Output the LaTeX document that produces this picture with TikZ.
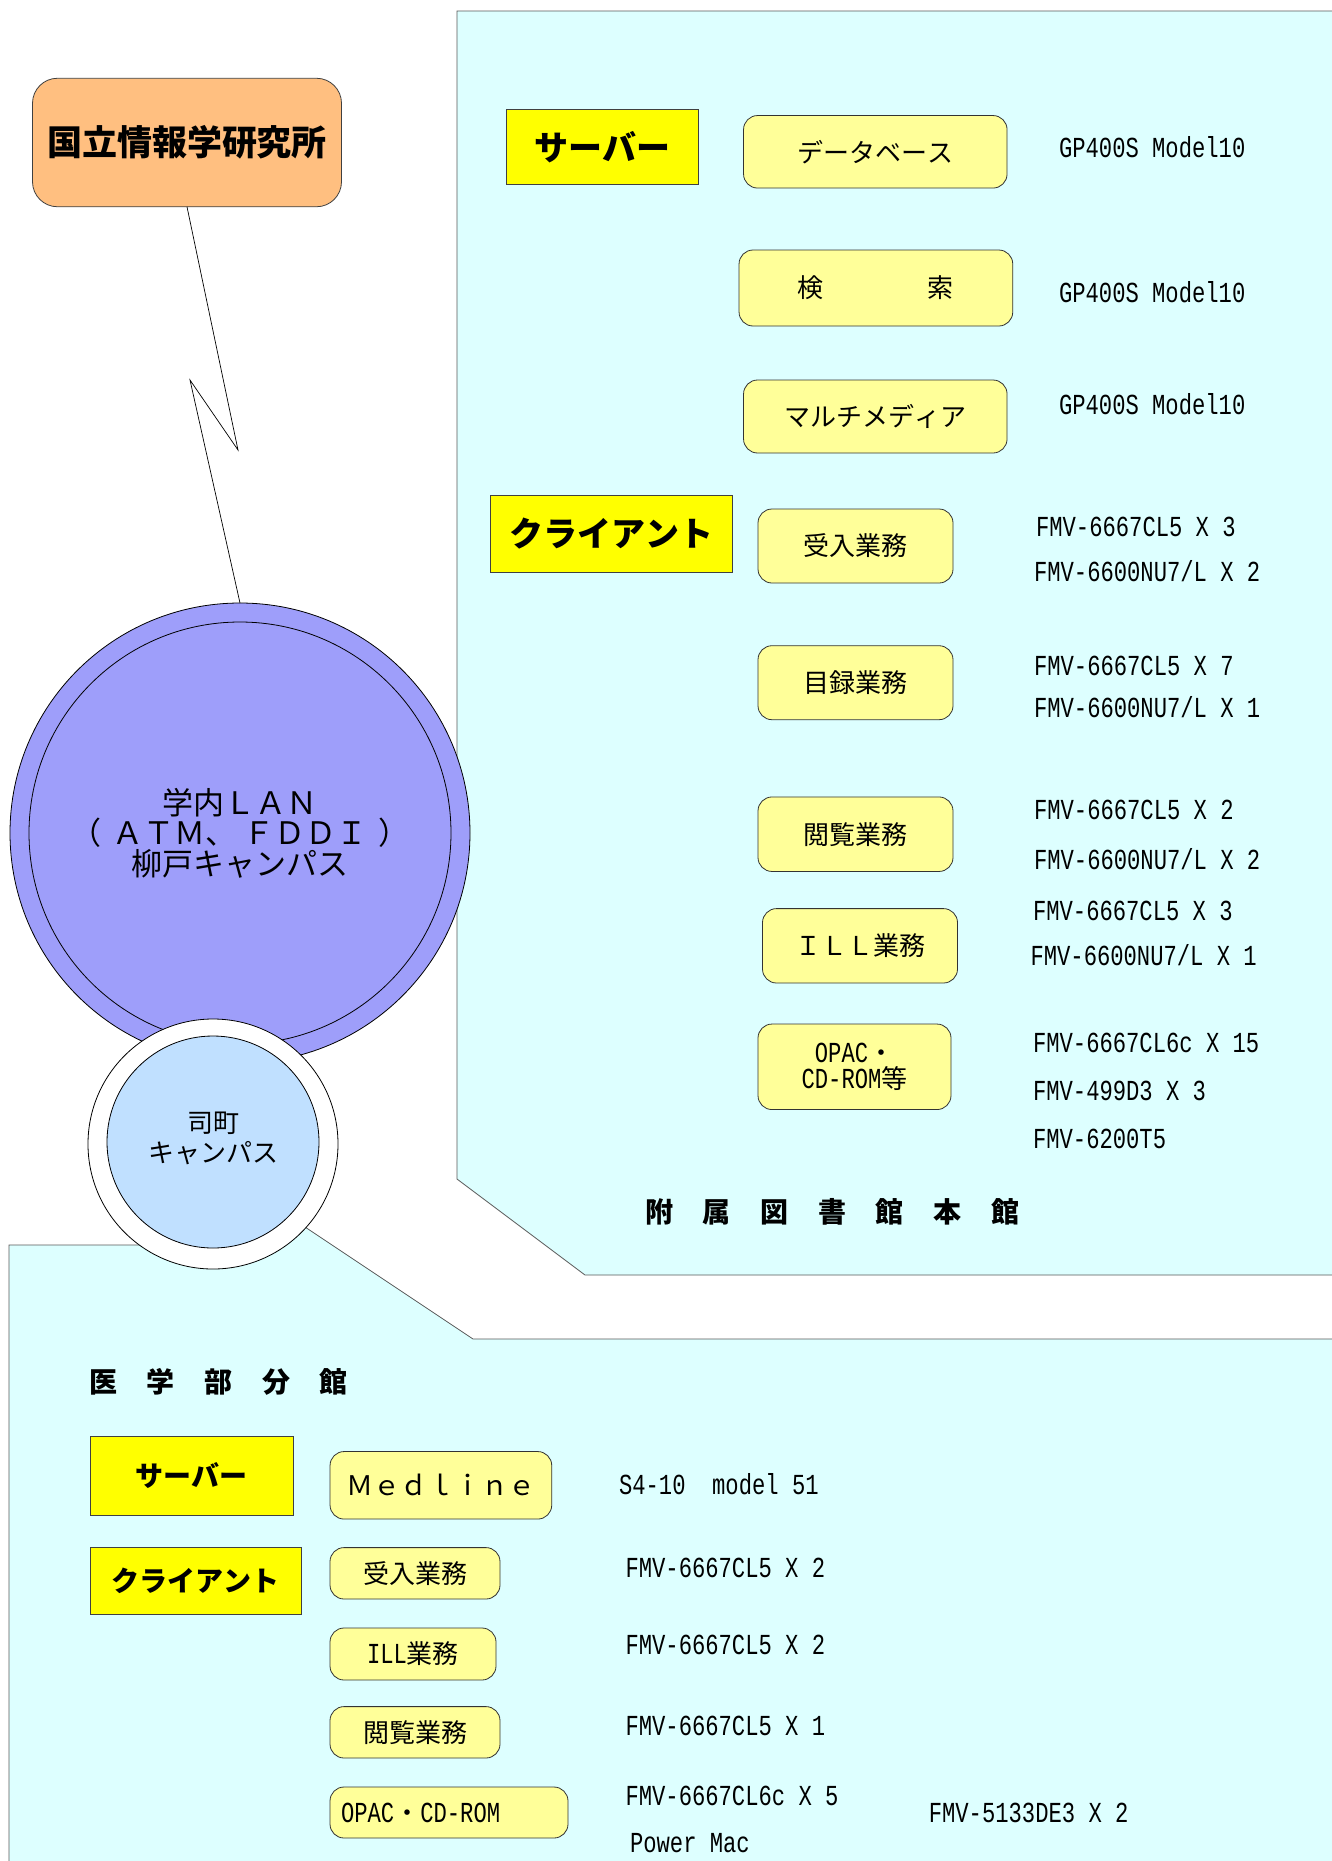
\documentclass[tikz,border=0pt]{standalone}
\usepackage{fontspec}
\newfontfamily\jp[Kerning=Off]{Noto Sans CJK JP}
\newfontfamily\mono[FakeStretch=0.765]{Liberation Mono}
\newcommand\mn[1]{{\mono\fontsize{29}{30}\selectfont #1}}
\definecolor{panel}{HTML}{DDFFFF}
\definecolor{orng}{HTML}{FFBF80}
\definecolor{yel}{HTML}{FFFF00}
\definecolor{lyel}{HTML}{FFFF99}
\definecolor{lanblue}{HTML}{9E9EFA}
\definecolor{campus}{HTML}{C0E0FF}
\begin{document}
\begin{tikzpicture}[x=1pt,y=-1pt, line width=0.8pt,
  every node/.style={inner sep=0pt, outer sep=0pt},
  ybx/.style={draw=black!75, fill=yel, line width=0.8pt, font=\jp\bfseries\fontsize{34}{38}\selectfont},
  ybxs/.style={ybx, font=\jp\bfseries\fontsize{28}{32}\selectfont},
  lyb/.style={draw=black!80, fill=lyel, rounded corners=14pt, font=\jp\fontsize{26}{30}\selectfont},
  spec/.style={anchor=west, font=\mono\fontsize{29}{34}\selectfont, text height=19pt, text depth=0pt},
  pnl/.style={draw=black!65, fill=panel, line width=0.8pt},
  ttl/.style={anchor=west, font=\jp\bfseries\fontsize{28}{32}\selectfont}
]
\useasboundingbox[fill=white] (0,0) rectangle (1331,1861);

% panels
\draw[pnl] (457,11) -- (1345,11) -- (1345,1275) -- (585,1275) -- (457,1179) -- cycle;
\draw[pnl] (9,1245) -- (213,1245) -- (260,1197) -- (473,1339) -- (1345,1339) -- (1345,1875) -- (9,1875) -- cycle;

% NII
\node[draw=black!75, fill=orng, rounded corners=25pt, minimum width=309pt, minimum height=128.5pt,
      font=\jp\bfseries\fontsize{35}{40}\selectfont] (nii) at (187,142.5) {国立情報学研究所};

% big LAN circle
\node[circle, draw, fill=lanblue, minimum size=460pt] (lan) at (240,833) {};
\node[circle, draw, minimum size=422pt, align=center, font=\jp\fontsize{31}{30.5}\selectfont] (laninner) at (240,833) {学内ＬＡＮ\\（\kern11ptＡＴＭ、\kern7ptＦＤＤＩ\kern11pt）\\柳戸キャンパス};

% lightning
\coordinate (z1) at (238,450);
\coordinate (z2) at (190,380);
\draw[line width=0.7pt] (nii.south) -- (z1) -- (z2) -- (lan.north);

% small campus circle
\node[circle, draw, fill=white, minimum size=250pt] (tsk) at (213,1144) {};
\node[circle, draw, fill=campus, minimum size=212pt] (tskin) at (213,1142) {};
\node[align=center, font=\jp\fontsize{26}{30}\selectfont] (tsktxt) at (tskin.center) [yshift=4pt] {司町\\キャンパス};

% ---- main library ----
\node[ybx, minimum width=192pt, minimum height=74.5pt] (srv1) at (602,146.8) {サーバー};
\node[ybx, minimum width=242pt, minimum height=76.5pt] (cli1) at (611,533.8) {クライアント};

\node[lyb, minimum width=263.5pt, minimum height=72.5pt] (db) at (875.3,151.8) {データベース};
\node[lyb, minimum width=273.7pt, minimum height=76pt] (kensaku) at (875.9,288) {検　　　　索};
\node[lyb, minimum width=263.5pt, minimum height=73pt] (mm) at (875.3,416.5) {マルチメディア};
\node[lyb, minimum width=195pt, minimum height=74pt] (uke1) at (855.5,546) {受入業務};
\node[lyb, minimum width=195pt, minimum height=74pt] (moku) at (855.5,682.7) {目録業務};
\node[lyb, minimum width=195pt, minimum height=74.5pt] (etsu1) at (855.5,834.2) {閲覧業務};
\node[lyb, minimum width=195pt, minimum height=74.4pt] (ill1) at (860,945.8) {ＩＬＬ業務};
\node[lyb, minimum width=193pt, minimum height=85.5pt, align=center, font=\jp\fontsize{26}{26.6}\selectfont] (opac1) at (854.5,1066.8) {\mn{OPAC}・\\\mn{CD-ROM}等};

\node[spec] (gp1) at (1059,148) {GP400S Model10};
\node[spec] (gp2) at (1059,292.6) {GP400S Model10};
\node[spec] (gp3) at (1059,405) {GP400S Model10};
\node[spec] (u1a) at (1036,527) {FMV-6667CL5 X 3};
\node[spec] (u1b) at (1034,572) {FMV-6600NU7/L X 2};
\node[spec] (m1a) at (1034,665.5) {FMV-6667CL5 X 7};
\node[spec] (m1b) at (1034,708) {FMV-6600NU7/L X 1};
\node[spec] (e1a) at (1034,810) {FMV-6667CL5 X 2};
\node[spec] (e1b) at (1034,860) {FMV-6600NU7/L X 2};
\node[spec] (i1a) at (1033,911) {FMV-6667CL5 X 3};
\node[spec] (i1b) at (1030.5,956) {FMV-6600NU7/L X 1};
\node[spec] (o1a) at (1033,1043) {FMV-6667CL6c X 15};
\node[spec] (o1b) at (1033,1090.5) {FMV-499D3 X 3};
\node[spec] (o1c) at (1033,1139) {FMV-6200T5};

\node[ttl] (honkan) at (645,1212) {附\kern29.7pt属\kern29.7pt図\kern29.7pt書\kern29.7pt館\kern29.7pt本\kern29.7pt館};

% ---- medical branch ----
\node[ttl] (igaku) at (89,1382) {医\kern29.7pt学\kern29.7pt部\kern29.7pt分\kern29.7pt館};
\node[ybxs, minimum width=203.5pt, minimum height=79pt] (srv2) at (191.8,1475.5) {サーバー};
\node[ybxs, minimum width=211.5pt, minimum height=67.5pt] (cli2) at (195.8,1580.8) {クライアント};

\node[lyb, minimum width=221.7pt, minimum height=67.5pt, font=\jp\fontsize{27}{30}\selectfont] (medline) at (440.9,1485.3) {Ｍｅｄｌｉｎｅ};
\node[lyb, minimum width=170pt, minimum height=51.4pt] (uke2) at (415,1573.3) {受入業務};
\node[lyb, minimum width=166pt, minimum height=52pt] (ill2) at (413,1654) {\mn{ILL}業務};
\node[lyb, minimum width=170pt, minimum height=51.4pt] (etsu2) at (415,1732.3) {閲覧業務};
\node[lyb, minimum height=51pt, text width=216pt, inner xsep=11pt, align=left] (opac2) at (449,1812.5) {\mn{OPAC}・\mn{CD-ROM}};

\node[spec] (s4) at (619,1485) {S4-10\ \ model 51};
\node[spec] (u2) at (625.5,1568) {FMV-6667CL5 X 2};
\node[spec] (i2) at (625.5,1645) {FMV-6667CL5 X 2};
\node[spec] (e2) at (625.5,1725.6) {FMV-6667CL5 X 1};
\node[spec] (o2a) at (625.5,1795.6) {FMV-6667CL6c X 5};
\node[spec] (o2b) at (630,1843) {Power Mac};
\node[spec] (o2c) at (928.8,1813) {FMV-5133DE3 X 2};
\end{tikzpicture}
\end{document}
